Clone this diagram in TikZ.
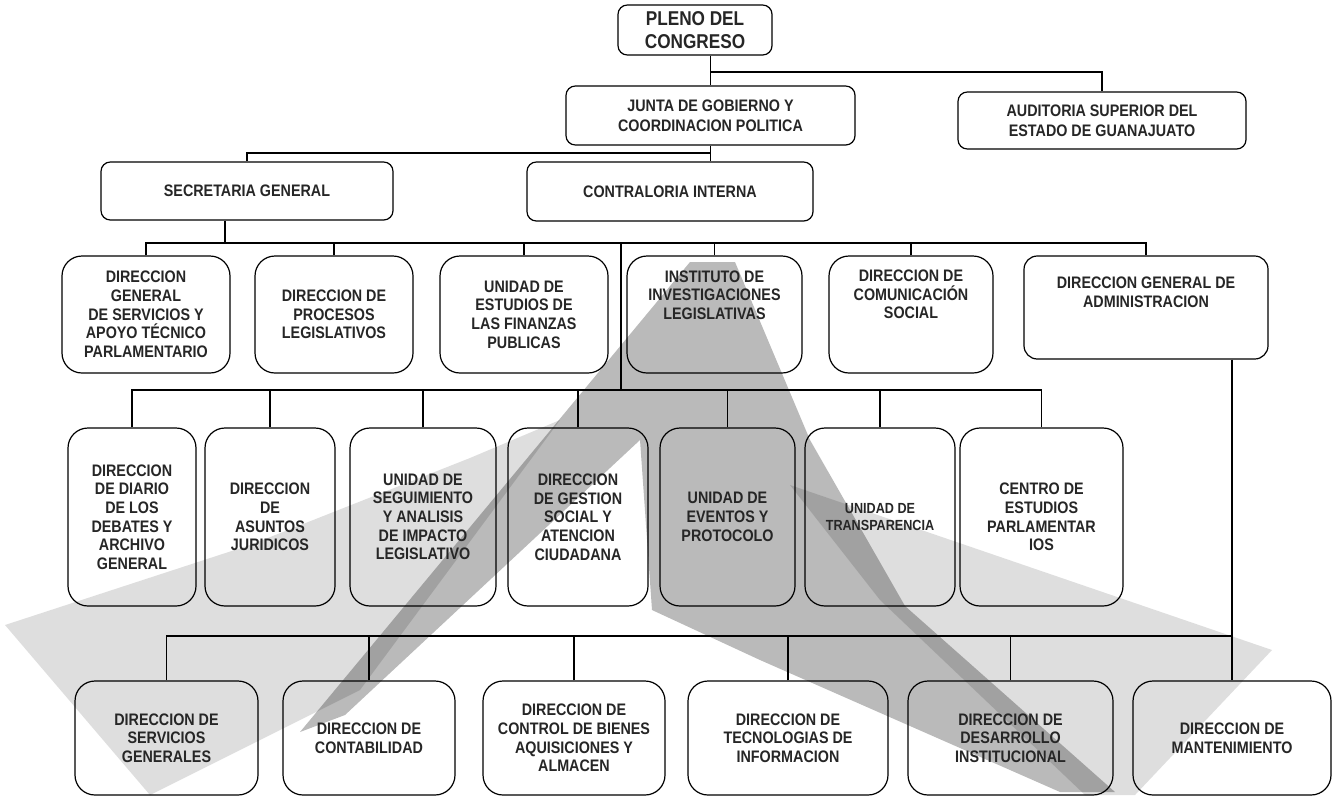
\documentclass[tikz,border=0pt]{standalone}
\usepackage{fontspec}
\setmainfont{Liberation Sans}[FakeStretch=0.86]
\begin{document}
\begin{tikzpicture}[x=0.75pt,y=-0.75pt,line width=0.9pt,
  caja/.style={draw,rounded corners=7pt,align=center,inner sep=2pt,text=black!85,
    font=\fontsize{12.5}{15}\selectfont\bfseries},
  unidad/.style={caja,rounded corners=15pt,font=\fontsize{12.5}{14}\selectfont\bfseries},
  marca/.style={fill=black,draw=none}]
  % page:
  \fill[white] (0,0) rectangle (1333,797);
  \useasboundingbox (0,0) rectangle (1333,797);
  % watermark, light swoosh on the left:
  \fill[marca,fill opacity=0.13] (5,625) -- (250,545) -- (470,458) -- (560,420) -- (360,690) -- (260,740) -- (150,795) -- cycle;
  % watermark, light swoosh on the right:
  \fill[marca,fill opacity=0.13] (790,485) -- (1272,650) -- (1135,795) -- (1085,795) -- (880,600) -- cycle;
  % watermark, the letter A:
  \fill[marca,fill opacity=0.27] (300,732) -- (690,262) -- (735,262) -- (810,440) -- (905,606) -- (1115,792) -- (1060,792) -- (760,660) -- (652,610) -- (640,440) -- (345,715) -- cycle;
  % levels of the connecting lines:
  \coordinate (busA) at (0,72);
  \coordinate (busB) at (0,153);
  \coordinate (busC) at (0,243);
  \coordinate (busD) at (0,390);
  \coordinate (busE) at (0,636);
  % top of the chart:
  \node[caja,minimum width=115.5pt,minimum height=37.5pt,font=\fontsize{15}{17}\selectfont\bfseries] (pleno) at (695,30) {PLENO DEL\\CONGRESO};
  \node[caja,minimum width=216.75pt,minimum height=44.25pt] (junta) at (710.5,115.5) {JUNTA DE GOBIERNO Y\\COORDINACION POLITICA};
  \node[caja,minimum width=216pt,minimum height=42.75pt] (auditoria) at (1102,120.5) {AUDITORIA SUPERIOR DEL\\ESTADO DE GUANAJUATO};
  \node[caja,minimum width=219pt,minimum height=43.5pt] (secretaria) at (247,191) {SECRETARIA GENERAL};
  \node[caja,minimum width=214.5pt,minimum height=44.25pt] (contraloria) at (670,191.5) {CONTRALORIA INTERNA};
  % third level:
  \node[unidad,minimum width=126pt,minimum height=87.75pt] (l3a) at (146,314.5) {DIRECCION\\GENERAL\\DE SERVICIOS Y\\APOYO TÉCNICO\\PARLAMENTARIO};
  \node[unidad,minimum width=118.5pt,minimum height=87.75pt] (l3b) at (334,314.5) {DIRECCION DE\\PROCESOS\\LEGISLATIVOS};
  \node[unidad,minimum width=126pt,minimum height=87.75pt] (l3c) at (524,314.5) {UNIDAD DE\\ESTUDIOS DE\\LAS FINANZAS\\PUBLICAS};
  \node[unidad,minimum width=131.25pt,minimum height=87.75pt,text depth=29pt] (l3d) at (714.5,314.5) {INSTITUTO DE\\INVESTIGACIONES\\LEGISLATIVAS};
  \node[unidad,minimum width=123pt,minimum height=87.75pt,text depth=30pt] (l3e) at (911,314.5) {DIRECCION DE\\COMUNICACIÓN\\SOCIAL};
  \node[unidad,rounded corners=10pt,minimum width=183pt,minimum height=77.25pt,text depth=23pt] (dga) at (1146,307.5) {DIRECCION GENERAL DE\\ADMINISTRACION};
  % fourth level:
  \node[unidad,minimum width=96pt,minimum height=133.5pt] (l4a) at (132,517) {DIRECCION\\DE DIARIO\\DE LOS\\DEBATES Y\\ARCHIVO\\GENERAL};
  \node[unidad,minimum width=97.5pt,minimum height=133.5pt] (l4b) at (270,517) {DIRECCION\\DE\\ASUNTOS\\JURIDICOS};
  \node[unidad,minimum width=109.5pt,minimum height=133.5pt] (l4c) at (423,517) {UNIDAD DE\\SEGUIMIENTO\\Y ANALISIS\\DE IMPACTO\\LEGISLATIVO};
  \node[unidad,minimum width=105pt,minimum height=133.5pt] (l4d) at (578,517) {DIRECCION\\DE GESTION\\SOCIAL Y\\ATENCION\\CIUDADANA};
  \node[unidad,minimum width=101.25pt,minimum height=133.5pt] (l4e) at (727.5,517) {UNIDAD DE\\EVENTOS Y\\PROTOCOLO};
  \node[unidad,minimum width=112.5pt,minimum height=133.5pt,font=\fontsize{11}{13}\selectfont\bfseries] (l4f) at (880,517) {UNIDAD DE\\TRANSPARENCIA};
  \node[unidad,minimum width=122.25pt,minimum height=133.5pt] (l4g) at (1041.5,517) {CENTRO DE\\ESTUDIOS\\PARLAMENTAR\\IOS};
  % fifth level:
  \node[unidad,minimum width=137.25pt,minimum height=85.5pt] (l5a) at (166.5,738) {DIRECCION DE\\SERVICIOS\\GENERALES};
  \node[unidad,minimum width=129pt,minimum height=85.5pt] (l5b) at (369,738) {DIRECCION DE\\CONTABILIDAD};
  \node[unidad,minimum width=136.5pt,minimum height=85.5pt] (l5c) at (574,738) {DIRECCION DE\\CONTROL DE BIENES\\AQUISICIONES Y\\ALMACEN};
  \node[unidad,minimum width=150pt,minimum height=85.5pt] (l5d) at (788,738) {DIRECCION DE\\TECNOLOGIAS DE\\INFORMACION};
  \node[unidad,minimum width=153.75pt,minimum height=85.5pt] (l5e) at (1010.5,738) {DIRECCION DE\\DESARROLLO\\INSTITUCIONAL};
  \node[unidad,minimum width=148.5pt,minimum height=85.5pt] (l5f) at (1232,738) {DIRECCION DE\\MANTENIMIENTO};
  % pleno to junta and auditoria:
  \draw (junta.north |- pleno.south) -- (junta.north);
  \draw (junta.north |- busA) -| (auditoria.north);
  % junta to contraloria and secretaria:
  \draw (junta.south) -- (junta.south |- contraloria.north);
  \draw (junta.south |- busB) -| (secretaria.north);
  % secretaria down to the third level:
  \coordinate (secpie) at ([xshift=-16.5pt]secretaria.south);
  \draw (secpie) -- (secpie |- busC);
  \draw (l3a.north) -- (l3a.north |- busC) -- (dga.north |- busC) -- (dga.north);
  \foreach \n in {l3b,l3c,l3d,l3e}
    \draw (\n.north) -- (\n.north |- busC);
  % trunk down to the fourth level:
  \coordinate (tronco) at (621,243);
  \draw (tronco) -- (tronco |- busD);
  \draw (l4a.north) -- (l4a.north |- busD) -- (l4g.north |- busD) -- (l4g.north);
  \foreach \n in {l4b,l4c,l4d,l4e,l4f}
    \draw (\n.north) -- (\n.north |- busD);
  % administracion down to the fifth level:
  \draw (dga.south -| l5f.north) -- (l5f.north);
  \draw (l5a.north) -- (l5a.north |- busE) -- (l5f.north |- busE);
  \foreach \n in {l5b,l5c,l5d,l5e}
    \draw (\n.north) -- (\n.north |- busE);
\end{tikzpicture}
\end{document}
